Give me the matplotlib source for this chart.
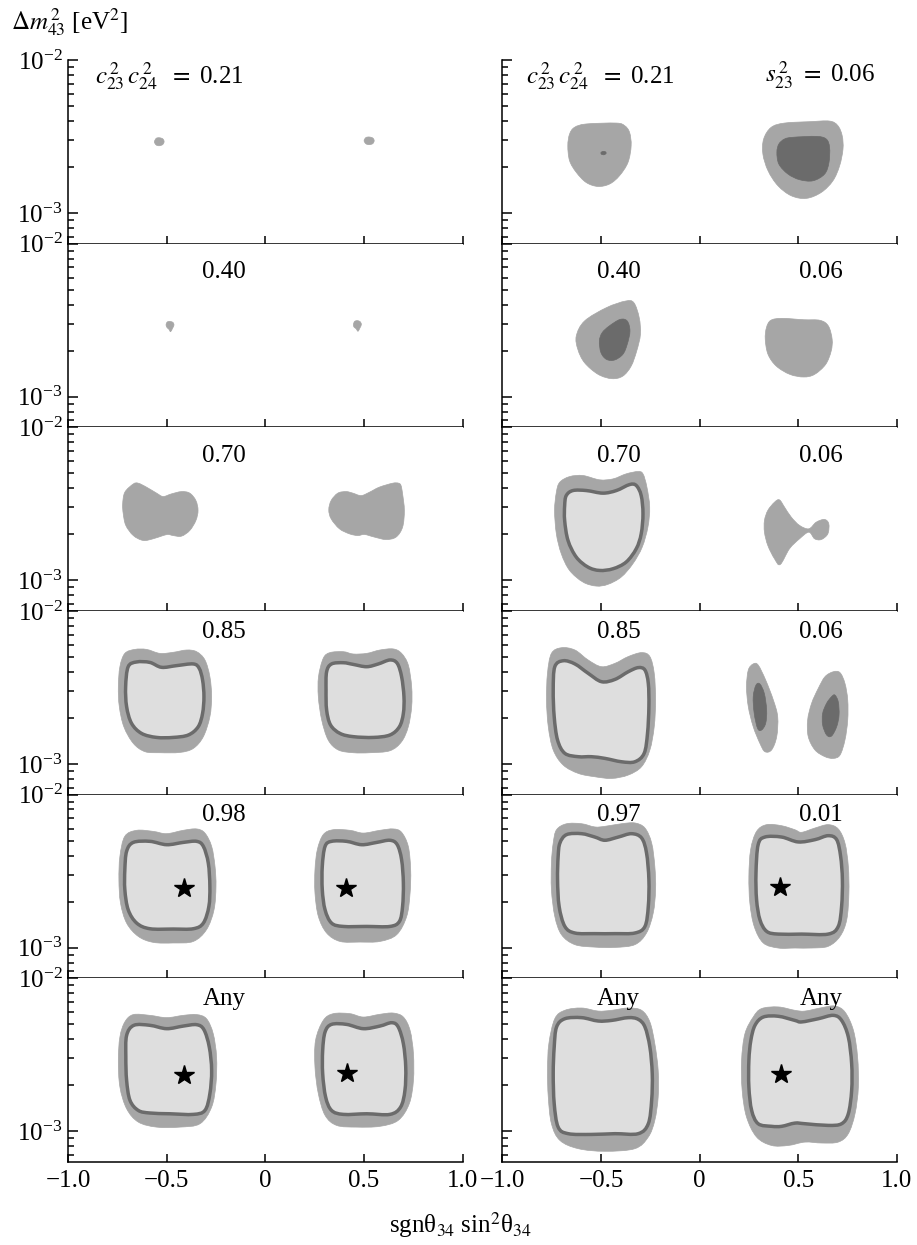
import matplotlib
matplotlib.use("Agg")
import matplotlib.pyplot as plt
from matplotlib.ticker import FixedLocator, LogLocator, NullFormatter
from matplotlib.path import Path
from matplotlib.patches import PathPatch

plt.rcParams['font.family'] = ['Liberation Serif', 'DejaVu Serif']
plt.rcParams['mathtext.fontset'] = 'stix'

# ---------------- data: region outlines (x = sgn(theta34) sin^2(theta34), lg = log10 dm2_43 [eV^2]) -------------
# Row 1, left  (c23^2 c24^2 = 0.21)
r1L_a_x = [-0.562, -0.553, -0.537, -0.520, -0.513, -0.520, -0.537, -0.553]
r1L_a_lg = [-2.535, -2.512, -2.508, -2.515, -2.533, -2.552, -2.560, -2.555]
r1L_b_x = [0.501, 0.510, 0.527, 0.545, 0.552, 0.545, 0.527, 0.510]
r1L_b_lg = [-2.527, -2.507, -2.503, -2.510, -2.527, -2.546, -2.553, -2.547]
# Row 1, right (c23^2 c24^2 = 0.21 | s23^2 = 0.06)
r1R_a_x = [-0.634, -0.575, -0.423, -0.380, -0.355, -0.347, -0.363, -0.406, -0.456, -0.516, -0.575, -0.625, -0.659, -0.668, -0.659]
r1R_a_lg = [-2.440, -2.418, -2.412, -2.429, -2.473, -2.560, -2.669, -2.756, -2.810, -2.826, -2.800, -2.734, -2.658, -2.560, -2.484]
r1R_ac_x = [-0.500, -0.490, -0.477, -0.474, -0.484, -0.497]
r1R_ac_lg = [-2.605, -2.597, -2.600, -2.610, -2.619, -2.616]
r1R_b_x = [0.363, 0.431, 0.558, 0.659, 0.701, 0.723, 0.727, 0.710, 0.676, 0.617, 0.541, 0.465, 0.397, 0.347, 0.321, 0.325]
r1R_b_lg = [-2.440, -2.412, -2.403, -2.399, -2.429, -2.495, -2.582, -2.691, -2.789, -2.865, -2.904, -2.887, -2.821, -2.723, -2.614, -2.516]
r1R_bc_x = [0.431, 0.473, 0.592, 0.642, 0.659, 0.656, 0.634, 0.575, 0.507, 0.448, 0.402, 0.392, 0.402]
r1R_bc_lg = [-2.516, -2.505, -2.499, -2.516, -2.571, -2.669, -2.745, -2.789, -2.782, -2.745, -2.680, -2.603, -2.549]

# Row 2, left (0.40)
r2L_a_x = [-0.503, -0.497, -0.483, -0.468, -0.463, -0.470, -0.480, -0.488, -0.498]
r2L_a_lg = [-2.530, -2.512, -2.508, -2.515, -2.532, -2.552, -2.575, -2.560, -2.548]
r2L_b_x = [0.447, 0.453, 0.467, 0.481, 0.487, 0.480, 0.470, 0.460, 0.450]
r2L_b_lg = [-2.528, -2.508, -2.503, -2.510, -2.528, -2.550, -2.572, -2.555, -2.545]
# Row 2, right (0.40 | 0.06)
r2R_a_x = [-0.583, -0.472, -0.375, -0.333, -0.306, -0.300, -0.319, -0.347, -0.389, -0.444, -0.514, -0.583, -0.617, -0.625]
r2R_a_lg = [-2.505, -2.418, -2.375, -2.386, -2.484, -2.593, -2.702, -2.800, -2.865, -2.882, -2.854, -2.778, -2.691, -2.603]
r2R_ac_x = [-0.458, -0.403, -0.367, -0.353, -0.367, -0.389, -0.431, -0.472, -0.500, -0.508, -0.494]
r2R_ac_lg = [-2.538, -2.495, -2.505, -2.571, -2.658, -2.723, -2.760, -2.756, -2.712, -2.636, -2.582]
r2R_b_x = [0.361, 0.417, 0.528, 0.611, 0.653, 0.672, 0.667, 0.639, 0.583, 0.528, 0.458, 0.389, 0.347, 0.333, 0.339]
r2R_b_lg = [-2.501, -2.488, -2.497, -2.501, -2.538, -2.625, -2.702, -2.789, -2.854, -2.871, -2.854, -2.800, -2.723, -2.625, -2.549]

# Row 3, left (0.70)
r3L_a_x = [-0.712, -0.669, -0.644, -0.602, -0.551, -0.518, -0.476, -0.425, -0.383, -0.352, -0.341, -0.352, -0.383, -0.425, -0.467, -0.492, -0.518, -0.568, -0.619, -0.669, -0.707, -0.720, -0.723]
r3L_a_lg = [-2.424, -2.370, -2.365, -2.391, -2.430, -2.452, -2.435, -2.420, -2.430, -2.478, -2.543, -2.609, -2.674, -2.711, -2.707, -2.700, -2.707, -2.728, -2.739, -2.707, -2.641, -2.565, -2.500]
r3L_b_x = [0.688, 0.696, 0.705, 0.696, 0.663, 0.612, 0.553, 0.503, 0.469, 0.427, 0.376, 0.334, 0.322, 0.334, 0.368, 0.410, 0.444, 0.486, 0.528, 0.578, 0.646, 0.676]
r3L_b_lg = [-2.380, -2.435, -2.543, -2.652, -2.717, -2.733, -2.717, -2.700, -2.707, -2.696, -2.663, -2.598, -2.539, -2.478, -2.430, -2.420, -2.430, -2.446, -2.424, -2.391, -2.365, -2.365]
# Row 3, right (0.70 | 0.06)
r3R_a_x = [-0.709, -0.659, -0.591, -0.507, -0.439, -0.372, -0.313, -0.287, -0.267, -0.253, -0.262, -0.291, -0.338, -0.397, -0.465, -0.524, -0.591, -0.659, -0.701, -0.726, -0.735, -0.726]
r3R_a_lg = [-2.359, -2.322, -2.315, -2.343, -2.337, -2.304, -2.289, -2.304, -2.391, -2.522, -2.652, -2.783, -2.891, -2.978, -3.026, -3.037, -3.011, -2.935, -2.826, -2.696, -2.543, -2.424]
r3R_ai_x = [-0.676, -0.642, -0.574, -0.490, -0.422, -0.355, -0.321, -0.296, -0.287, -0.296, -0.321, -0.372, -0.439, -0.507, -0.566, -0.625, -0.667, -0.684, -0.684]
r3R_ai_lg = [-2.446, -2.413, -2.413, -2.430, -2.413, -2.374, -2.380, -2.446, -2.565, -2.696, -2.793, -2.880, -2.924, -2.935, -2.913, -2.848, -2.739, -2.609, -2.511]
r3R_b_x = [0.329, 0.346, 0.380, 0.405, 0.431, 0.465, 0.507, 0.554, 0.591, 0.633, 0.655, 0.650, 0.617, 0.583, 0.554, 0.507, 0.456, 0.409, 0.380, 0.346, 0.329]
r3R_b_lg = [-2.609, -2.543, -2.489, -2.474, -2.522, -2.587, -2.641, -2.663, -2.620, -2.602, -2.630, -2.696, -2.733, -2.728, -2.685, -2.728, -2.793, -2.896, -2.859, -2.772, -2.685]

# Row 4, left (0.85)
r4L_a_x = [-0.712, -0.661, -0.602, -0.534, -0.467, -0.399, -0.348, -0.306, -0.281, -0.272, -0.281, -0.314, -0.365, -0.433, -0.534, -0.610, -0.669, -0.717, -0.740, -0.745, -0.737]
r4L_a_lg = [-2.277, -2.251, -2.251, -2.277, -2.270, -2.255, -2.266, -2.320, -2.429, -2.560, -2.691, -2.821, -2.898, -2.924, -2.926, -2.919, -2.865, -2.756, -2.625, -2.495, -2.364]
r4L_ai_x = [-0.695, -0.652, -0.585, -0.526, -0.450, -0.365, -0.335, -0.318, -0.311, -0.318, -0.340, -0.390, -0.467, -0.551, -0.627, -0.678, -0.703, -0.708]
r4L_ai_lg = [-2.364, -2.333, -2.336, -2.368, -2.357, -2.346, -2.375, -2.451, -2.560, -2.669, -2.756, -2.810, -2.826, -2.826, -2.800, -2.734, -2.625, -2.495]
r4L_b_x = [0.294, 0.328, 0.396, 0.446, 0.514, 0.581, 0.649, 0.691, 0.725, 0.742, 0.742, 0.725, 0.691, 0.632, 0.531, 0.446, 0.370, 0.319, 0.286, 0.269, 0.270]
r4L_b_lg = [-2.309, -2.272, -2.266, -2.281, -2.277, -2.255, -2.248, -2.277, -2.353, -2.495, -2.625, -2.756, -2.854, -2.913, -2.926, -2.926, -2.908, -2.843, -2.712, -2.560, -2.429]
r4L_bi_x = [0.311, 0.336, 0.396, 0.446, 0.514, 0.573, 0.632, 0.669, 0.691, 0.703, 0.700, 0.680, 0.632, 0.548, 0.446, 0.379, 0.331, 0.311, 0.308]
r4L_bi_lg = [-2.397, -2.346, -2.338, -2.349, -2.364, -2.346, -2.320, -2.342, -2.429, -2.560, -2.669, -2.756, -2.810, -2.826, -2.821, -2.800, -2.745, -2.647, -2.516]
# Row 4, right (0.85 | 0.06)
r4R_a_x = [-0.751, -0.700, -0.632, -0.565, -0.497, -0.429, -0.362, -0.294, -0.252, -0.230, -0.223, -0.230, -0.252, -0.294, -0.362, -0.446, -0.531, -0.615, -0.691, -0.742, -0.767, -0.776, -0.771]
r4R_a_lg = [-2.277, -2.240, -2.255, -2.320, -2.364, -2.342, -2.298, -2.272, -2.298, -2.407, -2.582, -2.756, -2.908, -3.017, -3.072, -3.094, -3.083, -3.061, -3.007, -2.908, -2.756, -2.582, -2.407]
r4R_ai_x = [-0.734, -0.691, -0.632, -0.565, -0.497, -0.429, -0.362, -0.311, -0.277, -0.260, -0.257, -0.264, -0.281, -0.328, -0.396, -0.480, -0.548, -0.615, -0.683, -0.720, -0.737, -0.742]
r4R_ai_lg = [-2.364, -2.325, -2.346, -2.407, -2.462, -2.447, -2.397, -2.370, -2.386, -2.473, -2.625, -2.800, -2.930, -2.985, -2.985, -2.963, -2.952, -2.952, -2.930, -2.843, -2.691, -2.516]
r4R_b_x = [0.247, 0.272, 0.297, 0.335, 0.374, 0.396, 0.391, 0.365, 0.331, 0.306, 0.272, 0.247, 0.238]
r4R_b_lg = [-2.386, -2.346, -2.353, -2.451, -2.582, -2.691, -2.821, -2.908, -2.919, -2.865, -2.756, -2.625, -2.495]
r4R_bc_x = [0.286, 0.306, 0.328, 0.340, 0.335, 0.314, 0.294, 0.277, 0.272]
r4R_bc_lg = [-2.484, -2.477, -2.538, -2.647, -2.734, -2.778, -2.767, -2.669, -2.560]
r4R_c_x = [0.636, 0.678, 0.712, 0.737, 0.751, 0.751, 0.737, 0.712, 0.678, 0.636, 0.585, 0.551, 0.548, 0.568, 0.602]
r4R_c_lg = [-2.429, -2.397, -2.403, -2.473, -2.582, -2.712, -2.843, -2.941, -2.963, -2.952, -2.908, -2.821, -2.712, -2.603, -2.505]
r4R_cc_x = [0.669, 0.686, 0.703, 0.707, 0.695, 0.669, 0.644, 0.624, 0.624, 0.644]
r4R_cc_lg = [-2.560, -2.549, -2.593, -2.680, -2.756, -2.817, -2.810, -2.745, -2.669, -2.603]

# Row 5, left (0.98)
r5L_a_x = [-0.712, -0.652, -0.568, -0.500, -0.416, -0.348, -0.306, -0.272, -0.255, -0.250, -0.260, -0.298, -0.365, -0.467, -0.568, -0.644, -0.703, -0.734, -0.742, -0.737]
r5L_a_lg = [-2.272, -2.233, -2.240, -2.255, -2.233, -2.224, -2.251, -2.338, -2.468, -2.599, -2.752, -2.882, -2.959, -2.969, -2.965, -2.926, -2.839, -2.708, -2.556, -2.403]
r5L_ai_x = [-0.703, -0.669, -0.585, -0.500, -0.416, -0.348, -0.314, -0.289, -0.281, -0.286, -0.314, -0.365, -0.467, -0.585, -0.652, -0.695, -0.712, -0.712]
r5L_ai_lg = [-2.370, -2.312, -2.305, -2.327, -2.312, -2.305, -2.338, -2.447, -2.599, -2.730, -2.839, -2.876, -2.878, -2.876, -2.839, -2.752, -2.621, -2.490]
r5L_b_x = [0.294, 0.345, 0.429, 0.497, 0.581, 0.649, 0.691, 0.725, 0.737, 0.734, 0.717, 0.666, 0.581, 0.480, 0.379, 0.311, 0.269, 0.252, 0.252, 0.264]
r5L_b_lg = [-2.261, -2.229, -2.233, -2.251, -2.233, -2.224, -2.246, -2.338, -2.490, -2.643, -2.795, -2.915, -2.959, -2.963, -2.959, -2.904, -2.795, -2.643, -2.490, -2.359]
r5L_bi_x = [0.303, 0.336, 0.412, 0.489, 0.565, 0.632, 0.669, 0.691, 0.700, 0.696, 0.680, 0.632, 0.514, 0.396, 0.336, 0.303, 0.289, 0.289]
r5L_bi_lg = [-2.338, -2.305, -2.305, -2.327, -2.312, -2.298, -2.327, -2.425, -2.577, -2.730, -2.828, -2.861, -2.861, -2.861, -2.839, -2.752, -2.621, -2.468]
# Row 5, right (0.97 | 0.01)
r5R_a_x = [-0.725, -0.674, -0.598, -0.531, -0.480, -0.396, -0.328, -0.277, -0.243, -0.227, -0.223, -0.235, -0.269, -0.328, -0.429, -0.531, -0.632, -0.700, -0.734, -0.751, -0.751, -0.742]
r5R_a_lg = [-2.229, -2.190, -2.190, -2.211, -2.207, -2.190, -2.185, -2.218, -2.316, -2.468, -2.621, -2.773, -2.904, -2.980, -2.998, -2.996, -2.980, -2.915, -2.795, -2.621, -2.447, -2.316]
r5R_ai_x = [-0.708, -0.674, -0.598, -0.531, -0.480, -0.412, -0.345, -0.294, -0.269, -0.257, -0.260, -0.277, -0.328, -0.429, -0.531, -0.632, -0.683, -0.712, -0.720, -0.717]
r5R_ai_lg = [-2.316, -2.261, -2.255, -2.277, -2.298, -2.277, -2.255, -2.283, -2.381, -2.556, -2.730, -2.861, -2.904, -2.908, -2.908, -2.904, -2.861, -2.730, -2.556, -2.403]
r5R_b_x = [0.289, 0.340, 0.416, 0.483, 0.517, 0.585, 0.652, 0.703, 0.737, 0.754, 0.757, 0.746, 0.712, 0.652, 0.568, 0.483, 0.399, 0.323, 0.277, 0.255, 0.250, 0.259]
r5R_b_lg = [-2.240, -2.196, -2.203, -2.229, -2.246, -2.218, -2.196, -2.224, -2.316, -2.468, -2.643, -2.817, -2.926, -2.991, -3.002, -3.002, -3.002, -2.969, -2.861, -2.708, -2.534, -2.359]
r5R_bi_x = [0.297, 0.331, 0.416, 0.500, 0.585, 0.652, 0.695, 0.715, 0.724, 0.720, 0.703, 0.652, 0.517, 0.399, 0.340, 0.306, 0.289, 0.286]
r5R_bi_lg = [-2.327, -2.277, -2.277, -2.309, -2.294, -2.268, -2.294, -2.403, -2.556, -2.730, -2.861, -2.911, -2.911, -2.911, -2.893, -2.817, -2.686, -2.512]

# Row 6, left (Any)
r6L_a_x = [-0.712, -0.669, -0.585, -0.500, -0.416, -0.348, -0.298, -0.264, -0.247, -0.250, -0.272, -0.331, -0.433, -0.551, -0.644, -0.703, -0.737, -0.745, -0.737]
r6L_a_lg = [-2.285, -2.237, -2.242, -2.257, -2.242, -2.237, -2.264, -2.362, -2.514, -2.688, -2.841, -2.950, -2.972, -2.972, -2.939, -2.852, -2.710, -2.536, -2.383]
r6L_ai_x = [-0.703, -0.666, -0.585, -0.500, -0.416, -0.348, -0.311, -0.284, -0.272, -0.281, -0.306, -0.365, -0.483, -0.585, -0.644, -0.686, -0.703, -0.707]
r6L_ai_lg = [-2.373, -2.307, -2.307, -2.329, -2.312, -2.303, -2.336, -2.449, -2.601, -2.754, -2.863, -2.889, -2.885, -2.880, -2.863, -2.797, -2.667, -2.514]
r6L_b_x = [0.294, 0.345, 0.429, 0.497, 0.581, 0.649, 0.700, 0.734, 0.751, 0.751, 0.730, 0.674, 0.581, 0.463, 0.362, 0.303, 0.269, 0.252, 0.255]
r6L_b_lg = [-2.275, -2.231, -2.231, -2.253, -2.235, -2.227, -2.253, -2.340, -2.492, -2.667, -2.819, -2.928, -2.967, -2.972, -2.961, -2.895, -2.754, -2.580, -2.405]
r6L_bi_x = [0.303, 0.336, 0.412, 0.497, 0.581, 0.641, 0.674, 0.700, 0.712, 0.708, 0.686, 0.632, 0.514, 0.396, 0.336, 0.306, 0.291, 0.291]
r6L_bi_lg = [-2.351, -2.301, -2.301, -2.329, -2.312, -2.290, -2.318, -2.427, -2.580, -2.732, -2.841, -2.889, -2.885, -2.889, -2.863, -2.776, -2.623, -2.471]
# Row 6, right (Any | Any)
r6R_a_x = [-0.734, -0.683, -0.598, -0.514, -0.446, -0.362, -0.294, -0.252, -0.227, -0.210, -0.210, -0.227, -0.260, -0.328, -0.480, -0.615, -0.708, -0.751, -0.767, -0.771, -0.764]
r6R_a_lg = [-2.264, -2.209, -2.194, -2.214, -2.209, -2.194, -2.209, -2.285, -2.427, -2.601, -2.776, -2.928, -3.037, -3.113, -3.130, -3.113, -3.059, -2.950, -2.776, -2.601, -2.427]
r6R_ai_x = [-0.725, -0.683, -0.598, -0.514, -0.446, -0.362, -0.311, -0.277, -0.252, -0.240, -0.243, -0.260, -0.311, -0.429, -0.548, -0.666, -0.717, -0.737, -0.742, -0.737]
r6R_ai_lg = [-2.318, -2.264, -2.257, -2.279, -2.275, -2.257, -2.268, -2.318, -2.449, -2.623, -2.797, -2.950, -3.015, -3.015, -3.020, -3.015, -2.972, -2.819, -2.623, -2.449]
r6R_b_x = [0.272, 0.314, 0.399, 0.483, 0.534, 0.619, 0.686, 0.737, 0.780, 0.801, 0.805, 0.788, 0.754, 0.703, 0.619, 0.534, 0.450, 0.365, 0.289, 0.238, 0.216, 0.213, 0.230]
r6R_b_lg = [-2.253, -2.198, -2.187, -2.209, -2.214, -2.192, -2.181, -2.220, -2.340, -2.514, -2.710, -2.885, -3.015, -3.070, -3.076, -3.070, -3.092, -3.092, -3.037, -2.906, -2.732, -2.536, -2.362]
r6R_bi_x = [0.281, 0.323, 0.399, 0.483, 0.517, 0.602, 0.678, 0.720, 0.754, 0.771, 0.771, 0.754, 0.720, 0.652, 0.534, 0.483, 0.416, 0.365, 0.297, 0.264, 0.250, 0.250, 0.260]
r6R_bi_lg = [-2.307, -2.253, -2.248, -2.275, -2.285, -2.264, -2.242, -2.275, -2.383, -2.558, -2.732, -2.885, -2.950, -2.961, -2.950, -2.946, -2.967, -2.967, -2.950, -2.863, -2.710, -2.536, -2.405]

# best-fit stars (x, log10 dm2)
star_r5L_x = [-0.412, 0.407]
star_r5L_lg = [-2.610, -2.610]
star_r5R_x = [0.407]
star_r5R_lg = [-2.603]
star_r6L_x = [-0.412, 0.412]
star_r6L_lg = [-2.630, -2.619]
star_r6R_x = [0.411]
star_r6R_lg = [-2.623]

# panel labels
c2324_values_left = ['0.21', '0.40', '0.70', '0.85', '0.98', 'Any']
c2324_values_right = ['0.21', '0.40', '0.70', '0.85', '0.97', 'Any']
s23_values_right = ['0.06', '0.06', '0.06', '0.06', '0.01', 'Any']

x_ticks = [-1.0, -0.5, 0.0, 0.5, 1.0]
x_tick_labels = ['\u22121.0', '\u22120.5', '0', '0.5', '1.0']

# ---------------- styling ----------------
C_MED = '#a6a6a6'
C_DARK = '#6b6b6b'
C_LIGHT = '#dedede'

panels = {
    (0, 0): [('o', r1L_a_x, r1L_a_lg), ('o', r1L_b_x, r1L_b_lg)],
    (0, 1): [('o', r1R_a_x, r1R_a_lg), ('c', r1R_ac_x, r1R_ac_lg),
             ('o', r1R_b_x, r1R_b_lg), ('c', r1R_bc_x, r1R_bc_lg)],
    (1, 0): [('o', r2L_a_x, r2L_a_lg), ('o', r2L_b_x, r2L_b_lg)],
    (1, 1): [('o', r2R_a_x, r2R_a_lg), ('c', r2R_ac_x, r2R_ac_lg), ('o', r2R_b_x, r2R_b_lg)],
    (2, 0): [('o', r3L_a_x, r3L_a_lg), ('o', r3L_b_x, r3L_b_lg)],
    (2, 1): [('o', r3R_a_x, r3R_a_lg), ('i', r3R_ai_x, r3R_ai_lg), ('o', r3R_b_x, r3R_b_lg)],
    (3, 0): [('o', r4L_a_x, r4L_a_lg), ('i', r4L_ai_x, r4L_ai_lg),
             ('o', r4L_b_x, r4L_b_lg), ('i', r4L_bi_x, r4L_bi_lg)],
    (3, 1): [('o', r4R_a_x, r4R_a_lg), ('i', r4R_ai_x, r4R_ai_lg),
             ('o', r4R_b_x, r4R_b_lg), ('c', r4R_bc_x, r4R_bc_lg),
             ('o', r4R_c_x, r4R_c_lg), ('c', r4R_cc_x, r4R_cc_lg)],
    (4, 0): [('o', r5L_a_x, r5L_a_lg), ('i', r5L_ai_x, r5L_ai_lg),
             ('o', r5L_b_x, r5L_b_lg), ('i', r5L_bi_x, r5L_bi_lg)],
    (4, 1): [('o', r5R_a_x, r5R_a_lg), ('i', r5R_ai_x, r5R_ai_lg),
             ('o', r5R_b_x, r5R_b_lg), ('i', r5R_bi_x, r5R_bi_lg)],
    (5, 0): [('o', r6L_a_x, r6L_a_lg), ('i', r6L_ai_x, r6L_ai_lg),
             ('o', r6L_b_x, r6L_b_lg), ('i', r6L_bi_x, r6L_bi_lg)],
    (5, 1): [('o', r6R_a_x, r6R_a_lg), ('i', r6R_ai_x, r6R_ai_lg),
             ('o', r6R_b_x, r6R_b_lg), ('i', r6R_bi_x, r6R_bi_lg)],
}
stars = {
    (4, 0): (star_r5L_x, star_r5L_lg), (4, 1): (star_r5R_x, star_r5R_lg),
    (5, 0): (star_r6L_x, star_r6L_lg), (5, 1): (star_r6R_x, star_r6R_lg),
}
label_yfrac = [0.915, 0.845, 0.842, 0.885, 0.888, 0.885]


def smooth_outline(xs, lgs):
    """Closed smooth path (cubic Bezier segments) passing through the read outline vertices."""
    n = len(xs)
    pts = list(zip(xs, lgs))
    verts = [pts[0]]
    codes = [Path.MOVETO]
    for i in range(n):
        p0, p1 = pts[i - 1], pts[i]
        p2, p3 = pts[(i + 1) % n], pts[(i + 2) % n]
        c1 = (p1[0] + (p2[0] - p0[0]) / 6.0, p1[1] + (p2[1] - p0[1]) / 6.0)
        c2 = (p2[0] - (p3[0] - p1[0]) / 6.0, p2[1] - (p3[1] - p1[1]) / 6.0)
        verts += [c1, c2, p2]
        codes += [Path.CURVE4] * 3
    verts.append(pts[0])
    codes.append(Path.CLOSEPOLY)
    verts = [(vx, 10 ** vy) for vx, vy in verts]
    return Path(verts, codes)


FS = 18
fig = plt.figure(figsize=(9.17, 12.45), dpi=100)
col_left = [0.0742, 0.5478]
ax_w = 0.4302
top = 0.9518
row_h = 0.14752

for r in range(6):
    for c in range(2):
        ax = fig.add_axes([col_left[c], top - (r + 1) * row_h, ax_w, row_h])
        ax.set_yscale('log')
        ax.set_xlim(-1, 1)
        ax.set_ylim(10 ** -3.2, 1e-2)
        for kind, xs, lgs in panels[(r, c)]:
            path = smooth_outline(xs, lgs)
            if kind == 'o':
                patch = PathPatch(path, facecolor=C_MED, edgecolor=C_MED, lw=0.5, zorder=2)
            elif kind == 'c':
                patch = PathPatch(path, facecolor=C_DARK, edgecolor=C_DARK, lw=0.5, zorder=3)
            else:
                patch = PathPatch(path, facecolor=C_LIGHT, edgecolor=C_DARK, lw=2.5,
                                  joinstyle='round', zorder=3)
            ax.add_patch(patch)
        if (r, c) in stars:
            sx, slg = stars[(r, c)]
            ax.plot(sx, [10 ** v for v in slg], ls='none', marker='*', ms=15,
                    color='black', zorder=5)
        # spines
        ax.spines['top'].set_visible(False)
        ax.spines['right'].set_visible(False)
        for s in ('left', 'bottom'):
            ax.spines[s].set_linewidth(1.1)
        ax.xaxis.set_major_locator(FixedLocator(x_ticks))
        ax.yaxis.set_major_locator(FixedLocator([1e-3, 1e-2]))
        ax.yaxis.set_minor_locator(LogLocator(base=10, subs=[2, 3, 4, 5, 6, 7, 8, 9]))
        ax.yaxis.set_minor_formatter(NullFormatter())
        ax.tick_params(axis='x', which='both', direction='in', length=6, width=1.1,
                       top=False, bottom=True, labelsize=FS, pad=6)
        ax.tick_params(axis='y', which='major', direction='in', length=7, width=1.1,
                       left=True, right=False, labelsize=FS, pad=4)
        ax.tick_params(axis='y', which='minor', direction='in', length=4.5, width=1.1,
                       left=True, right=False)
        ax.tick_params(axis='x', which='minor', bottom=False)
        if r == 5:
            ax.set_xticklabels(x_tick_labels)
        else:
            ax.tick_params(axis='x', labelbottom=False)
        if c == 1:
            ax.tick_params(axis='y', labelleft=False)
        tr = ax.get_xaxis_transform()
        yf = label_yfrac[r]
        if r == 0:
            ax.text(-0.865 if c == 0 else -0.88, yf,
                    r'$c_{23}^{\,2}\,c_{24}^{\,2}$ $\;=$ ' + (c2324_values_left[0] if c == 0 else c2324_values_right[0]),
                    transform=tr, ha='left', va='center', fontsize=FS)
            if c == 1:
                ax.text(0.33, yf, r'$s_{23}^{\,2}$ $=$ ' + s23_values_right[0],
                        transform=tr, ha='left', va='center', fontsize=FS)
        else:
            if c == 0:
                ax.text(-0.21, yf, c2324_values_left[r], transform=tr,
                        ha='center', va='center', fontsize=FS)
            else:
                ax.text(-0.41, yf, c2324_values_right[r], transform=tr,
                        ha='center', va='center', fontsize=FS)
                ax.text(0.615, yf, s23_values_right[r], transform=tr,
                        ha='center', va='center', fontsize=FS)

fig.text(0.012, 1 - 22 / 1245, r'$\Delta m_{43}^{\,2}$ [eV$^2$]', ha='left', va='center', fontsize=FS)
fig.text(0.502, 1 - 1225 / 1245, r'sgnθ$_{34}$ sin$^2$θ$_{34}$', ha='center', va='center', fontsize=FS)

fig.savefig('out.png', dpi=100)
